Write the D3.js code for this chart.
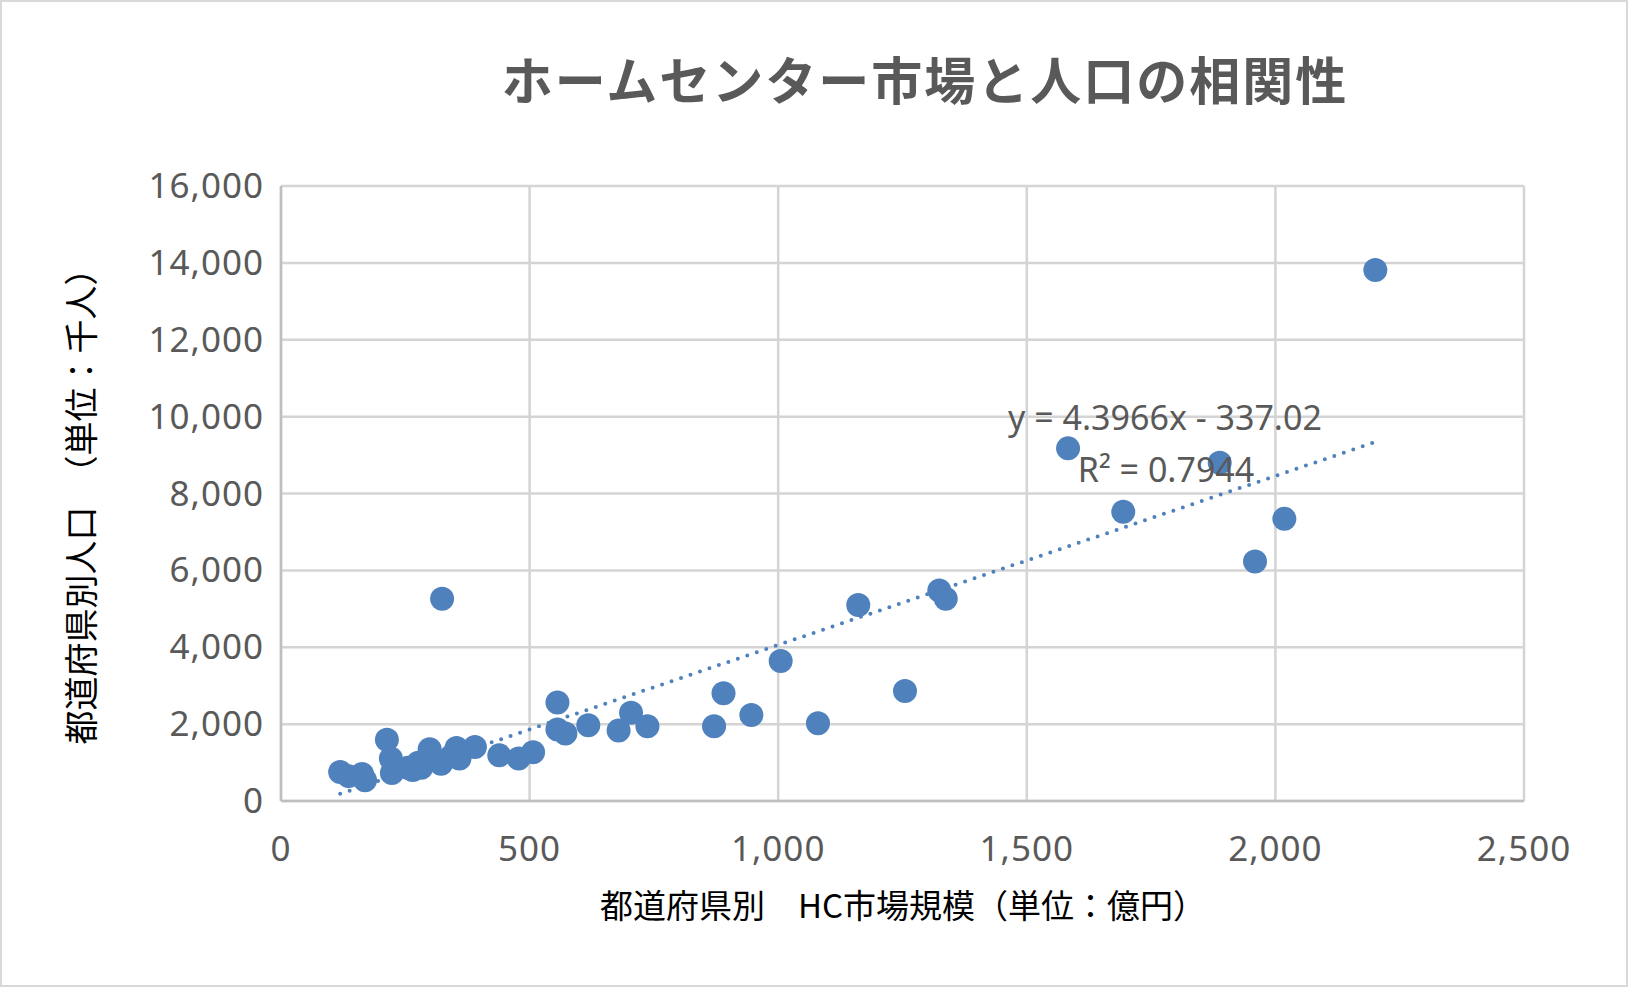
<!DOCTYPE html><html><head><meta charset="utf-8"><script src="https://cdn.jsdelivr.net/npm/d3@7"></script>
<style>body{margin:0;background:#fff}</style></head><body><svg id="c" width="1628" height="987"></svg>
<script>
const xVals=[2201,1583,1888,1694,2018,1959,1324,1337,1161,324,1005,1255,890,556,1080,946,704,871,737,679,618,572,556,507,478,439,390,353,359,322,299,282,276,213,221,223,163,169,119,136,255,228,342,265];
const yVals=[13815,9174,8800,7528,7340,6233,5478,5262,5100,5262,3643,2860,2806,2563,2024,2240,2294,1943,1943,1835,1970,1754,1862,1268,1106,1187,1403,1376,1106,971,1349,863,998,1592,1106,728,701,540,755,647,863,917,1160,809];
const xTicks=[0,500,1000,1500,2000,2500];
const yTicks=[0,2000,4000,6000,8000,10000,12000,14000,16000];
const slope=4.3966, intercept=-337.02, trendRange=[119,2210];
const svg=d3.select("#c");
const F="'Noto Sans CJK JP','Noto Sans',sans-serif";
svg.append("rect").attr("x",1).attr("y",1).attr("width",1626).attr("height",985).attr("fill","#fff").attr("stroke","#d9d9d9").attr("stroke-width",2);
const x=d3.scaleLinear().domain([0,2500]).range([281,1524]);
const y=d3.scaleLinear().domain([0,16000]).range([801,186]);
const fmt=d3.format(",");
svg.append("g").selectAll("line").data(xTicks).join("line").attr("x1",x).attr("x2",x).attr("y1",y(0)).attr("y2",y(16000)).attr("stroke","#d4d4d4").attr("stroke-width",2.5);
svg.append("g").selectAll("line").data(yTicks).join("line").attr("y1",y).attr("y2",y).attr("x1",x(0)).attr("x2",x(2500)).attr("stroke","#d4d4d4").attr("stroke-width",2.5);
svg.append("line").attr("x1",x(0)).attr("x2",x(0)).attr("y1",y(0)).attr("y2",y(16000)).attr("stroke","#bfbfbf").attr("stroke-width",2.5);
svg.append("line").attr("x1",x(0)).attr("x2",x(2500)).attr("y1",y(0)).attr("y2",y(0)).attr("stroke","#bfbfbf").attr("stroke-width",2.5);
svg.append("g").selectAll("text").data(yTicks).join("text").attr("x",264).attr("y",d=>y(d)+12).attr("text-anchor","end").attr("font-family","'Noto Sans',sans-serif").attr("font-size",35).attr("letter-spacing",1).attr("fill","#595959").text(fmt);
svg.append("g").selectAll("text").data(xTicks).join("text").attr("x",x).attr("y",861).attr("text-anchor","middle").attr("font-family","'Noto Sans',sans-serif").attr("font-size",35).attr("letter-spacing",1).attr("fill","#595959").text(fmt);
svg.append("g").selectAll("circle").data(xVals.map((v,i)=>[v,yVals[i]])).join("circle").attr("cx",d=>x(d[0])).attr("cy",d=>y(d[1])).attr("r",12).attr("fill","#4f81bd");
svg.append("line").attr("x1",x(trendRange[0])).attr("y1",y(slope*trendRange[0]+intercept)).attr("x2",x(trendRange[1])).attr("y2",y(slope*trendRange[1]+intercept)).attr("stroke","#4f81bd").attr("stroke-width",4).attr("stroke-dasharray","0 10").attr("stroke-linecap","round");
svg.append("text").attr("x",1165).attr("y",430).attr("text-anchor","middle").attr("font-family","'Noto Sans',sans-serif").attr("font-size",34).attr("fill","#595959").text("y = 4.3966x - 337.02");
svg.append("text").attr("x",1166).attr("y",482).attr("text-anchor","middle").attr("font-family","'Noto Sans',sans-serif").attr("font-size",34).attr("fill","#595959").text("R² = 0.7944");
svg.append("text").attr("x",925).attr("y",100).attr("text-anchor","middle").attr("font-family",F).attr("font-size",51).attr("font-weight","bold").attr("letter-spacing",2).attr("fill","#595959").text("ホームセンター市場と人口の相関性");
svg.append("text").attr("x",903).attr("y",918).attr("text-anchor","middle").attr("font-family",F).attr("font-size",33).attr("fill","#000").text("都道府県別　HC市場規模（単位：億円）");
svg.append("text").attr("transform","translate(94,498) rotate(-90)").attr("text-anchor","middle").attr("font-family",F).attr("font-size",34).attr("fill","#000").text("都道府県別人口　（単位：千人）");
</script></body></html>
